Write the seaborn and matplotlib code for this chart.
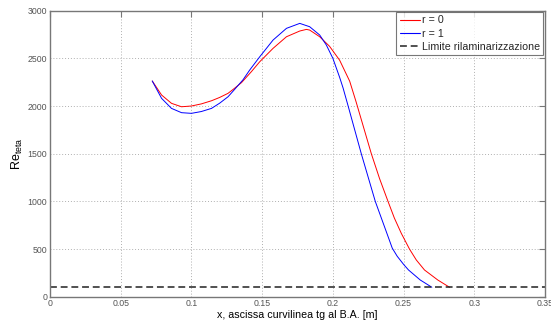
import matplotlib
matplotlib.use("Agg")
import matplotlib.pyplot as plt
import seaborn as sns
import pandas as pd

# Data
x_r0 = [0.0723, 0.0789, 0.0859, 0.0930, 0.1000, 0.1070, 0.1142, 0.1200, 0.1259, 0.1300,
        0.1354, 0.1424, 0.1483, 0.1577, 0.1672, 0.1766, 0.1813, 0.1836, 0.1907, 0.1977,
        0.2048, 0.2119, 0.2165, 0.2272, 0.2330, 0.2390, 0.2435, 0.2484, 0.2542, 0.2590,
        0.2648, 0.2742, 0.2825]
y_r0 = [2262, 2115, 2028, 1992, 2000, 2022, 2055, 2090, 2133, 2180,
        2245, 2360, 2464, 2604, 2726, 2786, 2803, 2796, 2726, 2625,
        2480, 2260, 2040, 1500, 1240, 1000, 825, 665, 500, 386,
        281, 176, 100]

x_r1 = [0.0723, 0.0789, 0.0859, 0.0930, 0.1000, 0.1070, 0.1142, 0.1200, 0.1259, 0.1300,
        0.1365, 0.1412, 0.1483, 0.1577, 0.1672, 0.1766, 0.1836, 0.1907, 0.1954, 0.2000,
        0.2048, 0.2072, 0.2108, 0.2201, 0.2300, 0.2365, 0.2420, 0.2455, 0.2500, 0.2535,
        0.2618, 0.2700]
y_r1 = [2262, 2080, 1975, 1930, 1923, 1942, 1975, 2030, 2097, 2165,
        2275, 2377, 2516, 2691, 2814, 2866, 2831, 2744, 2639, 2500,
        2300, 2190, 2000, 1500, 1000, 735, 510, 425, 340, 281,
        176, 100]

limit_value = 100
x_ticks = [0, 0.05, 0.1, 0.15, 0.2, 0.25, 0.3, 0.35]
x_tick_labels = ["0", "0.05", "0.1", "0.15", "0.2", "0.25", "0.3", "0.35"]
y_ticks = [0, 500, 1000, 1500, 2000, 2500, 3000]
labels = ["r = 0", "r = 1", "Limite rilaminarizzazione"]
colors = {labels[0]: "#ff0000", labels[1]: "#0000ff"}

df = pd.concat([
    pd.DataFrame({"x": x_r0, "y": y_r0, "serie": labels[0]}),
    pd.DataFrame({"x": x_r1, "y": y_r1, "serie": labels[1]}),
])

sns.set_theme(style="white")
plt.rcParams["font.family"] = ["Liberation Sans", "DejaVu Sans"]

fig = plt.figure(figsize=(5.51, 3.25), dpi=100)
fig.patch.set_facecolor("white")
ax = fig.add_axes([50 / 551, 28.2 / 325, 495 / 551, 286.2 / 325])

sns.lineplot(data=df, x="x", y="y", hue="serie", palette=colors,
             sort=False, estimator=None, linewidth=0.7, ax=ax, legend=False)
ax.axhline(limit_value, color="#222222", linestyle=(0, (4.5, 2.5)), linewidth=1.1)

ax.set_xlim(0, 0.35)
ax.set_ylim(0, 3000)
ax.set_xticks(x_ticks)
ax.set_xticklabels(x_tick_labels)
ax.set_yticks(y_ticks)
ax.grid(True, color="#b0b0b0", linestyle=(0, (1, 2)), linewidth=0.7)
for s in ax.spines.values():
    s.set_color("#777777")
    s.set_linewidth(1.0)
ax.tick_params(direction="in", length=4, width=0.8, color="#777777", labelsize=6.3,
               labelcolor="#555555", top=True, right=True, pad=2)
ax.tick_params(axis="x", pad=1.5)
ax.set_xlabel("x, ascissa curvilinea tg al B.A. [m]", fontsize=7.7, color="black")
ax.xaxis.set_label_coords(0.5, -(314.5 - 296.8) / 286.2)
ax.xaxis.label.set_verticalalignment("center")
ax.set_ylabel(r"Re$_{\mathregular{teta}}$", fontsize=9, color="black")
ax.yaxis.set_label_coords(-(50 - 17) / 495, 0.5)
ax.yaxis.label.set_verticalalignment("center")

handles = [
    plt.Line2D([], [], color=colors[labels[0]], lw=0.8),
    plt.Line2D([], [], color=colors[labels[1]], lw=0.8),
    plt.Line2D([], [], color="#222222", lw=1.1, linestyle=(0, (4.5, 2.5))),
]
leg = ax.legend(handles, labels, loc="upper right", fontsize=7.7, frameon=True, fancybox=False,
                edgecolor="#555555", handlelength=1.9, handletextpad=0.2, borderpad=0.3,
                labelspacing=0.3, borderaxespad=0.15)
leg.get_frame().set_linewidth(0.8)

fig.savefig("out.png", dpi=100, facecolor="white")
